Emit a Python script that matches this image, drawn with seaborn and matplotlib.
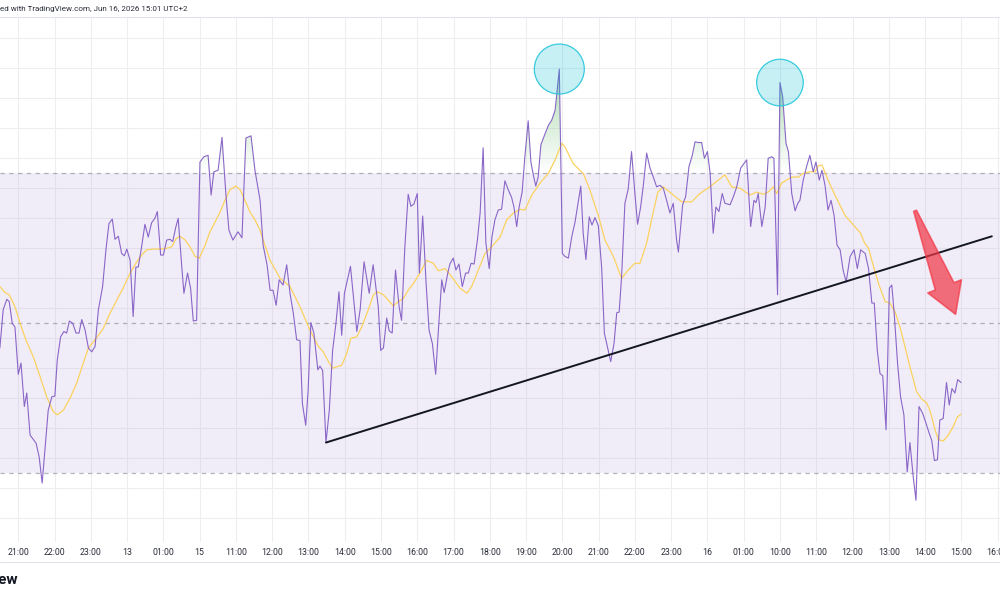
import numpy as np
import pandas as pd
import matplotlib
matplotlib.use("Agg")
import matplotlib.pyplot as plt
from matplotlib.patches import Ellipse, Polygon
from matplotlib.path import Path
from matplotlib.lines import Line2D
from matplotlib.transforms import IdentityTransform
import matplotlib.colors as mcolors
import seaborn as sns

sns.set_style("white")
plt.rcParams['font.family'] = ['Roboto', 'DejaVu Sans']

# x = 5 minute bar index, 0 = first "21:00" label; y = RSI
rsi_bar = [-6.1, -5.0, -3.8, -3.0, -2.0, -1.1, 0.0, 0.9, 2.0, 2.8,
           3.9, 5.9, 6.9, 7.9, 8.8, 9.9, 11.1, 12.1, 12.9, 14.0,
           15.1, 16.0, 16.9, 18.0, 19.1, 20.1, 21.0, 22.1, 23.2, 24.3,
           25.4, 26.5, 27.9, 29.0, 30.0, 31.1, 32.0, 33.1, 34.2, 35.1,
           35.9, 37.0, 38.0, 38.9, 39.7, 40.8, 41.9, 43.0, 44.1, 45.2,
           46.0, 47.1, 48.0, 49.1, 50.2, 51.1, 52.1, 52.9, 54.1, 54.8,
           56.0, 57.0, 57.9, 59.0, 60.1, 61.4, 62.8, 63.8, 64.7, 66.1,
           67.4, 68.7, 69.7, 71.0, 72.7, 74.0, 75.3, 77.0, 78.3, 80.0,
           81.0, 82.3, 83.3, 84.3, 85.3, 86.3, 87.6, 88.8, 89.9, 91.0,
           92.1, 93.2, 94.0, 95.1, 95.9, 96.8, 97.8, 99.1, 99.8, 100.7,
           101.8, 102.9, 104.0, 105.1, 106.1, 107.0, 107.9, 108.9, 109.9, 112.0,
           113.1, 114.4, 116.1, 117.4, 119.1, 119.9, 120.8, 121.9, 122.7, 123.7,
           124.8, 126.0, 126.8, 127.9, 129.0, 129.9, 130.9, 132.0, 132.7, 133.8,
           134.9, 135.9, 137.0, 138.1, 139.0, 140.1, 140.9, 142.1, 142.8, 143.9,
           144.8, 145.8, 146.9, 148.0, 148.9, 149.8, 150.8, 151.9, 152.8, 153.8,
           154.7, 155.8, 156.7, 157.7, 158.8, 159.9, 161.0, 162.1, 163.2, 164.0,
           164.9, 165.7, 166.7, 167.6, 168.7, 169.6, 170.4, 171.2, 172.0, 172.9,
           174.3, 175.4, 176.5, 177.6, 179.0, 180.0, 180.9, 182.0, 183.1, 184.2,
           185.1, 186.1, 186.9, 187.8, 188.9, 189.8, 190.8, 191.9, 193.0, 193.9,
           194.9, 196.0, 197.1, 198.0, 198.8, 199.6, 200.7, 201.8, 202.9, 204.0,
           204.9, 205.9, 206.8, 207.9, 209.0, 210.1, 211.2, 212.3, 213.4, 214.5,
           215.6, 216.7, 217.8, 218.4, 219.8, 220.8, 221.9, 223.0, 223.9, 225.0,
           226.1, 227.0, 228.0, 228.9, 229.9, 230.8, 231.8, 232.9, 233.8, 235.5,
           236.6, 237.7, 239.0, 241.0, 242.3, 243.4, 244.1, 244.8, 246.0, 247.1,
           248.1, 249.3, 250.0, 250.7, 251.2, 252.0, 252.9, 254.0, 254.8, 255.9,
           257.0, 257.9, 258.6, 259.7, 260.8, 261.9, 263.0, 263.9, 265.0, 265.9,
           266.9, 267.9, 268.9, 269.9, 270.9, 271.9, 272.9, 273.9, 275.2, 276.5,
           277.6, 278.7, 280.2, 281.3, 282.4, 283.2, 284.2, 285.1, 286.0, 287.1,
           288.2, 289.0, 289.8, 290.9, 291.9, 293.0, 294.1, 295.0, 296.1, 297.0,
           298.0, 299.2, 300.3, 301.4, 302.2, 303.1, 304.1, 304.9, 306.0, 307.1,
           308.0, 308.9, 309.9, 310.8, 311.9]
rsi_val = [46.7, 51.8, 53.2, 52.9, 50.0, 49.5, 43.2, 44.7, 38.9, 40.7,
           35.1, 34.0, 32.2, 28.7, 33.1, 38.4, 40.2, 40.3, 45.1, 48.2,
           48.9, 48.7, 50.3, 50.0, 48.7, 48.7, 50.5, 49.1, 46.7, 46.2,
           46.9, 51.8, 54.9, 59.8, 63.3, 63.9, 61.2, 61.6, 59.3, 59.0,
           59.9, 58.4, 50.9, 57.5, 57.5, 60.2, 63.2, 61.5, 63.4, 64.0,
           64.9, 59.1, 59.1, 61.1, 61.2, 60.9, 62.8, 64.0, 57.5, 54.0,
           56.7, 54.7, 50.3, 50.4, 71.5, 72.2, 72.4, 67.1, 70.2, 70.4,
           74.8, 67.1, 62.4, 61.1, 62.2, 61.4, 74.7, 75.0, 70.4, 66.4,
           60.4, 57.8, 54.4, 54.4, 52.4, 55.8, 55.1, 57.8, 54.0, 51.3,
           47.8, 47.7, 39.3, 36.4, 41.1, 50.1, 48.7, 43.8, 44.3, 43.7,
           34.1, 38.4, 46.4, 50.0, 54.2, 48.4, 54.0, 55.8, 57.6, 48.9,
           51.8, 58.2, 54.0, 57.8, 52.2, 46.4, 46.7, 50.7, 49.0, 48.7,
           57.1, 52.2, 50.4, 60.2, 67.2, 65.6, 65.9, 67.3, 56.7, 64.3,
           55.5, 49.1, 47.3, 43.2, 49.1, 55.8, 54.1, 56.7, 57.9, 58.7,
           57.1, 57.9, 54.9, 56.7, 56.7, 58.0, 57.9, 61.1, 64.7, 73.4,
           60.7, 57.3, 61.5, 63.8, 65.1, 65.2, 69.0, 67.8, 66.8, 65.5,
           62.9, 65.5, 67.5, 72.2, 77.0, 71.5, 69.8, 68.3, 69.5, 73.8,
           75.3, 76.4, 77.1, 78.4, 83.9, 59.3, 58.9, 58.7, 61.5, 63.5,
           65.8, 68.3, 62.0, 58.5, 64.2, 63.1, 64.1, 63.0, 57.5, 48.7,
           46.9, 44.9, 47.3, 51.4, 51.5, 56.2, 66.0, 67.9, 72.9, 67.3,
           63.2, 65.5, 68.4, 72.7, 70.7, 69.5, 68.2, 68.4, 68.0, 66.4,
           64.7, 66.0, 61.1, 59.5, 65.8, 66.9, 70.9, 72.4, 74.2, 74.1,
           74.1, 72.0, 72.9, 70.0, 62.0, 65.5, 64.9, 67.3, 66.0, 65.8,
           66.9, 68.2, 70.7, 71.8, 62.9, 66.4, 66.1, 67.3, 62.9, 65.5,
           72.0, 72.2, 72.0, 61.1, 53.8, 82.1, 80.2, 74.0, 72.9, 67.3,
           65.0, 66.0, 66.4, 69.1, 70.9, 72.4, 70.2, 71.5, 69.1, 70.4,
           68.4, 65.1, 66.4, 64.4, 60.4, 59.8, 57.1, 55.5, 58.9, 59.8,
           57.3, 59.8, 59.3, 57.3, 52.7, 52.7, 46.4, 43.3, 43.0, 35.8,
           54.7, 55.1, 51.3, 44.7, 40.2, 37.8, 30.2, 34.1, 29.5, 26.4,
           38.9, 38.0, 36.7, 35.3, 34.4, 31.7, 31.8, 37.1, 37.3, 42.1,
           39.1, 41.3, 40.7, 42.5, 42.1]

# RSI-based moving average (yellow)
ma_bar = [-6.1, -4.4, -3.0, -1.1, 0.6, 2.5, 5.0, 7.2, 9.4, 11.6,
          12.9, 14.9, 17.1, 19.3, 21.5, 23.2, 24.8, 26.5, 28.1, 30.3,
          32.6, 34.7, 37.0, 39.2, 40.8, 42.5, 44.7, 46.9, 49.1, 50.8,
          52.2, 53.5, 55.2, 56.8, 58.5, 59.9, 61.8, 63.4, 65.1, 66.7,
          68.4, 70.0, 72.0, 73.4, 75.0, 76.7, 78.3, 80.0, 81.6, 83.3,
          86.6, 89.9, 93.2, 96.5, 99.3, 100.9, 102.6, 104.0, 105.3, 107.0,
          108.7, 110.0, 112.0, 113.6, 115.8, 117.5, 118.8, 120.8, 122.4, 124.1,
          125.7, 127.4, 129.0, 130.7, 132.9, 135.1, 137.3, 139.0, 141.2, 143.4,
          146.1, 148.4, 150.0, 152.2, 154.4, 156.6, 159.4, 161.6, 163.8, 166.0,
          167.6, 169.9, 172.6, 175.4, 177.6, 179.8, 180.9, 183.6, 185.8, 186.9,
          189.1, 191.9, 194.1, 196.9, 199.6, 201.8, 204.0, 205.7, 207.9, 210.0,
          211.6, 213.4, 216.7, 219.5, 222.8, 225.5, 228.8, 231.6, 233.8, 236.0,
          238.8, 242.1, 244.3, 246.5, 248.1, 249.8, 250.9, 252.6, 254.2, 255.9,
          258.1, 259.7, 261.9, 263.6, 264.7, 265.9, 267.9, 270.2, 273.5, 278.7,
          280.0, 281.3, 283.0, 284.6, 286.8, 288.4, 290.1, 291.7, 292.8, 295.0,
          297.2, 298.9, 300.5, 301.6, 303.3, 304.4, 306.0, 307.7, 309.3, 310.7,
          311.9]
ma_val = [54.9, 54.1, 53.8, 52.2, 50.0, 47.8, 45.5, 42.9, 40.2, 38.2,
          37.8, 38.4, 40.0, 42.0, 44.7, 46.7, 47.5, 48.4, 49.3, 51.3,
          53.1, 54.7, 56.7, 58.2, 59.1, 59.8, 59.9, 59.9, 60.0, 60.2,
          61.3, 61.6, 61.1, 60.2, 58.9, 58.7, 60.4, 62.2, 63.5, 64.8,
          66.4, 67.8, 68.3, 67.8, 66.4, 64.8, 63.8, 62.4, 60.4, 58.4,
          56.0, 54.9, 52.2, 49.1, 46.9, 46.2, 44.9, 44.0, 44.2, 44.4,
          46.0, 48.0, 48.2, 49.5, 51.8, 53.8, 54.2, 53.8, 53.1, 52.3,
          52.9, 53.3, 54.4, 55.3, 56.7, 58.4, 58.0, 57.0, 57.3, 56.2,
          54.7, 54.0, 54.9, 57.1, 59.3, 60.2, 61.5, 63.8, 64.7, 65.2,
          65.1, 67.1, 68.7, 70.0, 71.8, 74.0, 73.5, 71.3, 70.4, 70.0,
          67.8, 64.4, 61.1, 58.9, 56.0, 57.1, 58.0, 58.0, 60.7, 64.7,
          67.5, 68.2, 67.1, 66.2, 66.2, 67.3, 68.2, 69.1, 69.8, 68.2,
          68.0, 67.1, 67.5, 67.2, 67.5, 68.2, 67.3, 68.7, 69.1, 69.5,
          69.5, 70.0, 70.2, 70.2, 71.0, 71.1, 69.1, 67.1, 64.4, 62.0,
          60.7, 60.0, 57.5, 55.3, 52.9, 52.7, 51.5, 49.5, 47.8, 44.2,
          40.9, 39.9, 39.4, 38.4, 35.8, 34.5, 34.3, 35.1, 36.2, 37.5,
          37.9]

tick_labels = ["21:00", "22:00", "23:00", "13", "01:00", "15", "11:00", "12:00",
               "13:00", "14:00", "15:00", "16:00", "17:00", "18:00", "19:00",
               "20:00", "21:00", "22:00", "23:00", "16", "01:00", "10:00",
               "11:00", "12:00", "13:00", "14:00", "15:00", "16:00"]
bars_per_label = 12

upper_band, middle_band, lower_band = 70, 50, 30
trend_start = (101.8, 34.1)
trend_end = (322.1, 61.6)
arrow_tail = (296.7, 65.0)
arrow_tip = (310.1, 51.2)

purple = "#7E57C2"
yellow = "#FBD25E"
grid_c = "#EEEEF1"

fig = plt.figure(figsize=(10, 6), dpi=100)
ax = fig.add_axes([0, 58 / 600, 1, 525 / 600])
ax.set_xlim(-6.05, 324.8)
ax.set_ylim(20.84, 90.84)

# grid
ax.set_xticks([bars_per_label * k for k in range(len(tick_labels))])
ax.set_xticklabels(tick_labels)
ax.set_yticks(np.arange(24, 89, 4))
ax.grid(True, color=grid_c, lw=0.8)
ax.set_axisbelow(True)
ax.tick_params(axis='y', left=False, labelleft=False)
ax.tick_params(axis='x', length=0, pad=4, labelsize=6.3, labelcolor="#2A2E39")
for side in ["left", "right", "bottom"]:
    ax.spines[side].set_visible(False)
ax.spines["top"].set_color("#E0E3EB")
ax.spines["top"].set_linewidth(0.8)

# band
ax.axhspan(lower_band, upper_band, color=purple, alpha=0.1, lw=0, zorder=1)
for lvl in (upper_band, middle_band, lower_band):
    ax.axhline(lvl, color="#787B86", alpha=0.55, lw=0.9, ls=(0, (3.5, 3.5)), zorder=2)

x = np.array(rsi_bar)
y = np.array(rsi_val)


def gradient_fill(base, far, color, mask):
    poly = ax.fill_between(x, base, y, where=mask, interpolate=True,
                           facecolor="none", edgecolor="none")
    paths = poly.get_paths()
    if not paths:
        return
    clip = Path.make_compound_path(*paths)
    grad = np.zeros((200, 1, 4))
    grad[:, 0, :3] = mcolors.to_rgb(color)
    grad[:, 0, 3] = np.linspace(0, 1, 200)
    lo, hi = (base, far) if far > base else (far, base)
    if far < base:
        grad = grad[::-1]
    im = ax.imshow(grad, extent=[x.min(), x.max(), lo, hi], origin="lower",
                   aspect="auto", zorder=2.5, interpolation="bilinear")
    im.set_clip_path(clip, transform=ax.transData)


gradient_fill(upper_band, 100, "#4CAF50", y > upper_band)
gradient_fill(lower_band, 0, "#F23645", y < lower_band)
ax.set_xlim(-6.05, 324.8)
ax.set_ylim(20.84, 90.84)

df_ma = pd.DataFrame({"bar": ma_bar, "ma": ma_val})
df_rsi = pd.DataFrame({"bar": rsi_bar, "rsi": rsi_val})
sns.lineplot(data=df_ma, x="bar", y="ma", color=yellow, lw=0.9, ax=ax,
             estimator=None, sort=False, zorder=3)
sns.lineplot(data=df_rsi, x="bar", y="rsi", color=purple, lw=0.8, alpha=0.9,
             ax=ax, estimator=None, sort=False, zorder=4)
ax.set_xlabel("")
ax.set_ylabel("")

# trend line
ax.plot([trend_start[0], trend_end[0]], [trend_start[1], trend_end[1]],
        color="#131722", lw=1.4, zorder=5, solid_capstyle="round")

# circles around the two peaks (drawn round in pixels)
sx = ax.transData.transform((1, 0))[0] - ax.transData.transform((0, 0))[0]
sy = ax.transData.transform((0, 1))[1] - ax.transData.transform((0, 0))[1]
i1 = int(np.argmax(y))
later = x > 240
i2 = int(np.where(later)[0][np.argmax(y[later])])
for idx, r in ((i1, 25), (i2, 23.3)):
    ax.add_patch(Ellipse((x[idx], y[idx]), 2 * r / sx, 2 * r / sy,
                         facecolor="#00BCD4", alpha=0.22, edgecolor="none", zorder=6))
    ax.add_patch(Ellipse((x[idx], y[idx]), 2 * r / sx, 2 * r / sy,
                         facecolor="none", edgecolor="#26C6DA", lw=0.9, alpha=0.9, zorder=6))

# red arrow, shape built in pixel space
t = ax.transData.transform(arrow_tail)
p = ax.transData.transform(arrow_tip)
d = (p - t) / np.linalg.norm(p - t)
nrm = np.array([-d[1], d[0]])
head_len, head_hw, shaft_hw, tail_hw = 30, 18, 10, 1.5
b = p - d * head_len
verts = [t + nrm * tail_hw, b + nrm * shaft_hw, b + nrm * head_hw, p,
         b - nrm * head_hw, b - nrm * shaft_hw, t - nrm * tail_hw]
ax.add_patch(Polygon(verts, closed=True, transform=IdentityTransform(),
                     facecolor="#F23645", alpha=0.7, edgecolor="#F23645",
                     lw=1.2, joinstyle="round", zorder=7))

# frame texts
fig.text(0, 1 - 9 / 600, "ed with TradingView.com, Jun 16, 2026 15:01 UTC+2",
         ha="left", va="center", fontsize=5.8, color="#2A2E39")
fig.text(18 / 1000, 1 - 580 / 600, "TradingView", ha="right", va="center",
         fontsize=11, fontweight="bold", color="#131722")
fig.add_artist(Line2D([0, 1], [1 - 562 / 600] * 2, transform=fig.transFigure,
                      color="#E0E3EB", lw=0.8))

fig.savefig("out.png", dpi=100)
